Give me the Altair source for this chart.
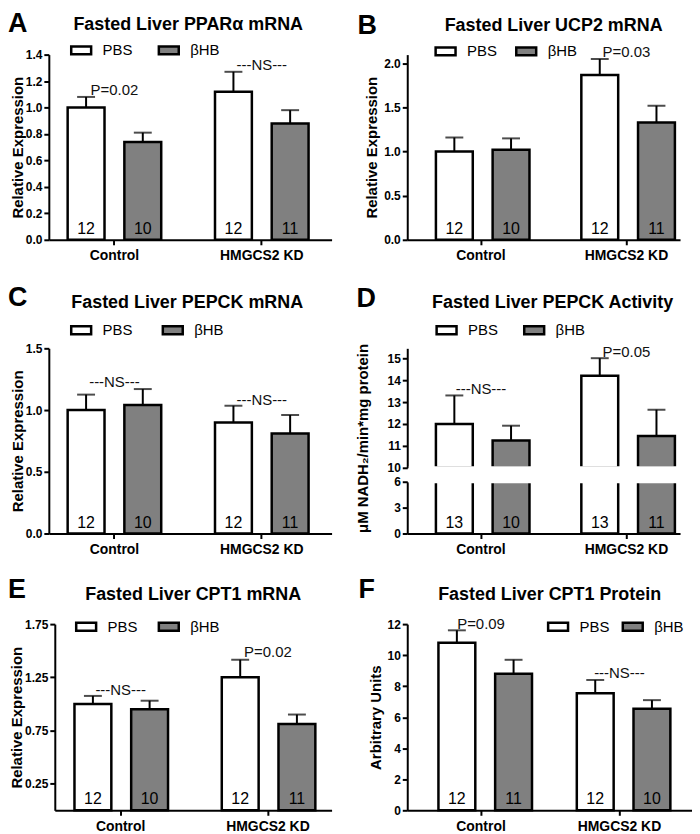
import altair as alt
import pandas as pd

groups = ["Control", "HMGCS2 KD"]
series = ["PBS", "βHB"]
GRAY = "#808080"
RECT = "M-1,-0.4H1V0.4H-1Z"

# order of bars: Control-PBS, Control-βHB, HMGCS2 KD-PBS, HMGCS2 KD-βHB
a_mean = [1.00, 0.74, 1.12, 0.88]
a_sem = [0.08, 0.07, 0.15, 0.10]
a_n = [12, 10, 12, 11]
a_notes = [("Control", "P=0.02", 1.13), ("HMGCS2 KD", "---NS---", 1.32)]

b_mean = [1.00, 1.02, 1.87, 1.33]
b_sem = [0.16, 0.13, 0.18, 0.19]
b_n = [12, 10, 12, 11]
b_notes = [("HMGCS2 KD", "P=0.03", 2.13)]

c_mean = [1.00, 1.04, 0.90, 0.81]
c_sem = [0.125, 0.13, 0.135, 0.15]
c_n = [12, 10, 12, 11]
c_notes = [("Control", "---NS---", 1.23), ("HMGCS2 KD", "---NS---", 1.085)]

d_mean = [12.0, 11.25, 14.2, 11.45]
d_sem = [1.3, 0.67, 0.8, 1.2]
d_n = [13, 10, 13, 11]
d_notes = [("Control", "---NS---", 13.6), ("HMGCS2 KD", "P=0.05", 15.27)]

e_mean = [1.00, 0.95, 1.25, 0.81]
e_sem = [0.075, 0.08, 0.165, 0.09]
e_n = [12, 10, 12, 11]
e_notes = [("Control", "---NS---", 1.13), ("HMGCS2 KD", "P=0.02", 1.49)]

f_mean = [10.8, 8.8, 7.55, 6.55]
f_sem = [0.8, 0.9, 0.85, 0.55]
f_n = [12, 11, 12, 10]
f_notes = [("Control", "P=0.09", 12.0), ("HMGCS2 KD", "---NS---", 8.82)]

LEFT = dict(width=284, pi=0.365, po=0.142, align=0.45, opi=0.35)
ECFG = dict(width=284, pi=0.373, po=0.126, align=0.53, opi=0.4, range=[6, 284])
RIGHT = dict(width=274, pi=0.38, po=0.128, align=0.77, opi=0.4)
FCFG = dict(width=286, pi=0.384, po=0.221, align=0.51, opi=0.37)


def make_df(mean, sem, n):
    rows = []
    i = 0
    for g in groups:
        for s in series:
            rows.append(dict(group=g, series=s, mean=mean[i], upper=mean[i] + sem[i],
                             n=str(n[i]), zero=0, base_up=10, low_top=min(mean[i], 6)))
            i += 1
    return pd.DataFrame(rows)


def xenc(c):
    if "range" in c:
        sc = alt.Scale(paddingInner=c["pi"], paddingOuter=c["po"], align=c["align"],
                       range=c["range"])
    else:
        sc = alt.Scale(paddingInner=c["pi"], paddingOuter=c["po"], align=c["align"])
    return alt.X("group:N", sort=groups, title=None, scale=sc, axis=alt.Axis(labelAngle=0))


def xoff(c):
    return alt.XOffset("series:N", sort=series,
                       scale=alt.Scale(paddingInner=c["opi"], paddingOuter=0))


def fill_enc(lx, ly, cp):
    return alt.Fill("series:N", sort=series,
                    scale=alt.Scale(domain=series, range=["white", GRAY]),
                    legend=alt.Legend(title=None, orient="none", legendX=lx, legendY=ly,
                                      direction="horizontal", columnPadding=cp))


def text_layer(txt, x, y, size, align, baseline):
    return alt.Chart(pd.DataFrame({"t": [txt]})).mark_text(
        align=align, baseline=baseline, fontSize=size, fontWeight="bold", color="black"
    ).encode(x=alt.value(x), y=alt.value(y), text="t:N")


def standard_panel(letter, title, mean, sem, n, notes, xc, height, ydomain, yvalues, yfmt,
                   ytitle, tpad, lg, let_xy, tit_xy, yrange=None, yoffset=0):
    df = make_df(mean, sem, n)
    ndf = pd.DataFrame(notes, columns=["group", "note", "y"])
    if yrange:
        sc = alt.Scale(domain=ydomain, range=yrange, nice=False, zero=False)
    else:
        sc = alt.Scale(domain=ydomain, nice=False, zero=False)
    ax = alt.Axis(values=yvalues, format=yfmt, title=ytitle, offset=yoffset, titlePadding=tpad)

    def Y(f):
        return alt.Y(f + ":Q", scale=sc, axis=ax)

    X = xenc(xc)
    XO = xoff(xc)
    base = alt.Chart(df)
    bars = base.mark_bar(stroke="black", strokeWidth=2.5).encode(
        x=X, xOffset=XO, y=Y("mean"), y2="zero:Q", fill=fill_enc(*lg))
    err = base.mark_rule(color="black", strokeWidth=2).encode(
        x=X, xOffset=XO, y=Y("mean"), y2="upper:Q")
    cap = base.mark_tick(color="black", thickness=2, size=18, orient="horizontal").encode(
        x=X, xOffset=XO, y=Y("upper"))
    cnt = base.mark_text(fontSize=16, baseline="alphabetic", dy=-6, color="black").encode(
        x=X, xOffset=XO, y=Y("zero"), text="n:N")
    nts = alt.Chart(ndf).mark_text(fontSize=15, baseline="middle", color="#111").encode(
        x=X, y=Y("y"), text="note:N")
    let = text_layer(letter, let_xy[0], let_xy[1], 27, "left", "top")
    tit = text_layer(title, tit_xy[0], tit_xy[1], 18, "center", "alphabetic")
    return alt.layer(bars, err, cap, cnt, nts, let, tit).properties(width=xc["width"], height=height)


pa = standard_panel("A", "Fasted Liver PPARα mRNA", a_mean, a_sem, a_n, a_notes, LEFT, 186,
                    [0, 1.4], [0, 0.2, 0.4, 0.6, 0.8, 1.0, 1.2, 1.4], ".1f", "Relative Expression",
                    0, (21, -16, 20), (-41, -44), (140, -25))
pb = standard_panel("B", "Fasted Liver UCP2 mRNA", b_mean, b_sem, b_n, b_notes, RIGHT, 186,
                    [0, 2.1], [0, 0.5, 1.0, 1.5, 2.0], ".1f", "Relative Expression",
                    4, (27, -15, 13), (-50, -42), (147, -24))
pc = standard_panel("C", "Fasted Liver PEPCK mRNA", c_mean, c_sem, c_n, c_notes, LEFT, 204,
                    [0, 1.5], [0, 0.5, 1.0, 1.5], ".1f", "Relative Expression",
                    0, (21, -12, 24), (-41, -46), (139, -22), yrange=[204, 18])
pe = standard_panel("E", "Fasted Liver CPT1 mRNA", e_mean, e_sem, e_n, e_notes, ECFG, 187,
                    [0, 1.75], [0.25, 0.75, 1.25, 1.75], ".2f", "Relative Expression",
                    0, (26, -9, 15), (-41, -47), (145, -24), yoffset=-6)
pf = standard_panel("F", "Fasted Liver CPT1 Protein", f_mean, f_sem, f_n, f_notes, FCFG, 187,
                    [0, 12], [0, 2, 4, 6, 8, 10, 12], "d", "Arbitrary Units",
                    4, (140, -9, 7), (-49, -47), (143, -24))

# Panel D: broken y axis
ddf = make_df(d_mean, d_sem, d_n)
dnotes = pd.DataFrame(d_notes, columns=["group", "note", "y"])
up_sc = alt.Scale(domain=[10, 15.45], range=[138, 18], nice=False, zero=False)
lo_sc = alt.Scale(domain=[0, 6], range=[204, 152], nice=False, zero=False)
up_ax = alt.Axis(values=[10, 11, 12, 13, 14, 15], format="d", orient="left",
                 title="μM NADH₂/min*mg protein", titleX=-45, titleY=108,
                 titleBaseline="middle", titleAlign="center")
lo_ax = alt.Axis(values=[0, 3, 6], format="d", orient="left", title=None)
DX = xenc(RIGHT)
DXO = xoff(RIGHT)
dbase = alt.Chart(ddf)
dlg = (28, -12, 20)
up_bars = dbase.mark_bar(stroke="black", strokeWidth=2.5).encode(
    x=DX, xOffset=DXO, y=alt.Y("mean:Q", scale=up_sc, axis=up_ax), y2="base_up:Q",
    fill=fill_enc(*dlg))
up_err = dbase.mark_rule(color="black", strokeWidth=2).encode(
    x=DX, xOffset=DXO, y=alt.Y("mean:Q", scale=up_sc, axis=up_ax), y2="upper:Q")
up_cap = dbase.mark_tick(color="black", thickness=2, size=18, orient="horizontal").encode(
    x=DX, xOffset=DXO, y=alt.Y("upper:Q", scale=up_sc, axis=up_ax))
up_nts = alt.Chart(dnotes).mark_text(fontSize=15, baseline="middle", color="#111").encode(
    x=DX, y=alt.Y("y:Q", scale=up_sc, axis=up_ax), text="note:N")
upper = alt.layer(up_bars, up_err, up_cap, up_nts)
lo_bars = dbase.mark_bar(stroke="black", strokeWidth=2.5).encode(
    x=DX, xOffset=DXO, y=alt.Y("low_top:Q", scale=lo_sc, axis=lo_ax), y2="zero:Q",
    fill=fill_enc(*dlg))
lo_cnt = dbase.mark_text(fontSize=16, baseline="alphabetic", dy=-6, color="black").encode(
    x=DX, xOffset=DXO, y=alt.Y("zero:Q", scale=lo_sc, axis=lo_ax), text="n:N")
lower = alt.layer(lo_bars, lo_cnt)
gap = alt.Chart(pd.DataFrame({"t": [0]})).mark_rect(fill="white").encode(
    x=alt.value(1.5), x2=alt.value(274), y=alt.value(136.5), y2=alt.value(153.5))
pd_ = alt.layer(upper, lower, gap,
                text_layer("D", -51, -45, 27, "left", "top"),
                text_layer("Fasted Liver PEPCK Activity", 146, -22, 18, "center", "alphabetic")
                ).resolve_scale(y="independent").properties(width=274, height=204)

chart = alt.concat(pa, pb, pc, pd_, pe, pf, columns=2,
                   spacing={"row": 91, "column": 76}, bounds="flush"
                   ).resolve_scale(fill="independent").properties(padding=0)

chart = chart.configure(font="Liberation Sans").configure_view(stroke=None).configure_axis(
    domainColor="black", domainWidth=2, tickColor="black", tickWidth=2, tickSize=5,
    labelColor="black", labelFontWeight="bold", labelFontSize=12, labelPadding=2,
    labelFont="Liberation Sans", titleFont="Liberation Sans",
    titleColor="black", titleFontWeight="bold", titleFontSize=15, grid=False
).configure_axisX(labelFontSize=14, labelPadding=4).configure_legend(
    symbolType=RECT, symbolSize=400, symbolStrokeColor="black", symbolStrokeWidth=2.5,
    labelFontSize=15, labelColor="black", labelOffset=10, padding=0, labelFont="Liberation Sans"
)

chart.save("out.html", embed_options={"renderer": "svg", "actions": False})
